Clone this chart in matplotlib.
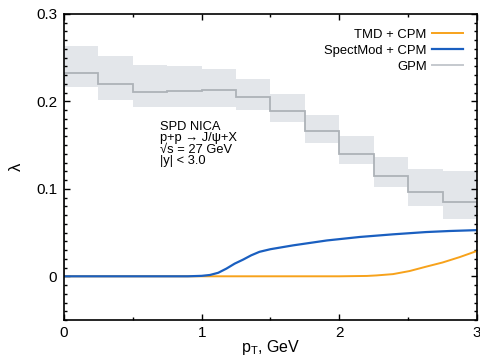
import numpy as np
import matplotlib
matplotlib.use("Agg")
import matplotlib.pyplot as plt
from matplotlib.ticker import MultipleLocator, FixedLocator
from matplotlib.lines import Line2D

plt.rcParams['font.family'] = ['Liberation Sans', 'DejaVu Sans']
plt.rcParams['mathtext.fontset'] = 'custom'
plt.rcParams['mathtext.rm'] = 'Liberation Sans'
plt.rcParams['mathtext.it'] = 'Liberation Sans:italic'

# GPM: binned result (bins of 0.25 GeV) with uncertainty band
gpm_edges = [0, 0.25, 0.5, 0.75, 1.0, 1.25, 1.5, 1.75, 2.0, 2.25, 2.5, 2.75, 3.0]
gpm_mid = [0.232, 0.220, 0.211, 0.212, 0.213, 0.205, 0.189, 0.166, 0.140, 0.115, 0.096, 0.085]
gpm_up = [0.263, 0.252, 0.242, 0.240, 0.237, 0.226, 0.208, 0.185, 0.160, 0.136, 0.123, 0.121]
gpm_lo = [0.217, 0.202, 0.194, 0.194, 0.194, 0.190, 0.176, 0.153, 0.129, 0.102, 0.080, 0.065]

# SpectMod + CPM
spect_pt = [0.0, 0.5, 0.9, 1.0, 1.06, 1.12, 1.18, 1.24, 1.30, 1.36, 1.42, 1.5, 1.665, 1.91, 2.15, 2.39, 2.63, 2.8, 3.0]
spect_l = [0.0, 0.0, 0.0, 0.0005, 0.0015, 0.004, 0.0088, 0.0145, 0.019, 0.024, 0.028, 0.031, 0.0354, 0.041, 0.045, 0.048, 0.0506, 0.0518, 0.0528]

# TMD + CPM
tmd_pt = [0.0, 1.0, 2.0, 2.2, 2.27, 2.39, 2.51, 2.63, 2.75, 2.875, 3.0]
tmd_l = [0.0, 0.0, 0.0, 0.0004, 0.001, 0.0025, 0.006, 0.011, 0.0158, 0.022, 0.029]

fig = plt.figure(figsize=(4.81, 3.57), dpi=100)
ax = fig.add_axes([0.133, 0.1036, 0.8587, 0.8572])

ax.stairs(gpm_up, gpm_edges, baseline=gpm_lo, fill=True, color='#e3e6ea', lw=0)
ax.stairs(gpm_mid, gpm_edges, color='#adb2b8', lw=1.3)
ax.plot(tmd_pt, tmd_l, color='#f7a21b', lw=1.4)
ax.plot(spect_pt, spect_l, color='#1a5fc0', lw=1.6)

ax.set_xlim(0, 3)
ax.set_ylim(-0.05, 0.3)
ax.xaxis.set_major_locator(FixedLocator([0, 1, 2, 3]))
ax.xaxis.set_minor_locator(FixedLocator([0.5, 1.5, 2.5]))
ax.set_xticklabels(['0', '1', '2', '3'])
ax.yaxis.set_major_locator(FixedLocator([0, 0.1, 0.2, 0.3]))
ax.yaxis.set_minor_locator(MultipleLocator(0.01))
ax.set_yticklabels(['0', '0.1', '0.2', '0.3'])
ax.tick_params(which='both', direction='in', top=True, right=True, labelsize=11, width=1.0)
ax.tick_params(axis='x', pad=4)
ax.tick_params(axis='y', pad=5)
ax.tick_params(which='major', length=4)
ax.tick_params(which='minor', length=2.5)
for s in ax.spines.values():
    s.set_linewidth(1.2)

ax.set_xlabel('p$_\\mathregular{T}$, GeV', fontsize=11.5, labelpad=-1)
ax.set_ylabel('λ', fontsize=12, labelpad=9)

ax.text(0.70, 0.178, 'SPD NICA\np+p → J/ψ+X\n√s = 27 GeV\n|y| < 3.0',
        fontsize=9.3, va='top', ha='left', linespacing=0.95)

handles = [Line2D([], [], color='#f7a21b', lw=1.4),
           Line2D([], [], color='#1a5fc0', lw=1.6),
           Line2D([], [], color='#c5c9ce', lw=1.4)]
ax.legend(handles, ['TMD + CPM', 'SpectMod + CPM', 'GPM'], loc='upper right',
          bbox_to_anchor=(0.995, 0.99), frameon=False, markerfirst=False,
          fontsize=9.4, handlelength=2.4, handletextpad=0.4, labelspacing=0.3)

fig.savefig('out.png', dpi=100)
